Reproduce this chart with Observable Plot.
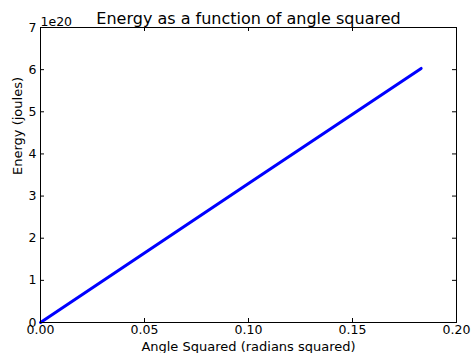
<!DOCTYPE html>
<html><head><meta charset="utf-8">
<script src="https://cdn.jsdelivr.net/npm/d3@7"></script>
<script src="https://cdn.jsdelivr.net/npm/@observablehq/plot@0.6"></script>
<style>
html,body{margin:0;padding:0;background:#fff;}
svg{font-family:"DejaVu Sans",sans-serif;}
</style></head>
<body>
<div id="chart"></div>
<script>
// Angle squared (radians^2) and energy (×1e20 joules)
const angleSquared = [0, 0.05, 0.10, 0.15, 0.183];
const energy = [0, 1.65, 3.30, 4.94, 6.03];
const xTicks = [0, 0.05, 0.10, 0.15, 0.20];
const yTicks = [0, 1, 2, 3, 4, 5, 6, 7];
const title = "Energy as a function of angle squared";
const xLabel = "Angle Squared (radians squared)";
const yLabel = "Energy (joules)";
const offsetText = "1e20";

const data = angleSquared.map((x, i) => ({x, y: energy[i]}));

const W = 471, H = 353, mL = 40, mR = 15, mT = 27, mB = 31;
const plotH = H - mT - mB, plotW = W - mL - mR;
const tl = 4;

const chart = Plot.plot({
  width: W, height: H,
  marginLeft: mL, marginRight: mR, marginTop: mT, marginBottom: mB,
  style: {fontFamily: "DejaVu Sans, sans-serif", fontSize: "12.5px", color: "#000", background: "#fff"},
  x: {domain: [0, 0.2]},
  y: {domain: [0, 7]},
  marks: [
    Plot.frame({stroke: "#000", strokeWidth: 1}),
    Plot.line(data, {x: "x", y: "y", stroke: "#0000ff", strokeWidth: 3}),
    Plot.tickX(xTicks, {x: d => d, insetTop: plotH - tl, stroke: "#000"}),
    Plot.tickX(xTicks, {x: d => d, insetBottom: plotH - tl, stroke: "#000"}),
    Plot.tickY(yTicks, {y: d => d, insetRight: plotW - tl, stroke: "#000"}),
    Plot.tickY(yTicks, {y: d => d, insetLeft: plotW - tl, stroke: "#000"}),
    Plot.axisX({ticks: xTicks, tickSize: 0, tickPadding: 3, tickFormat: d3.format(".2f"),
      fontSize: 12.5, label: null}),
    Plot.axisY({ticks: yTicks, tickSize: 0, tickPadding: 4, tickFormat: d3.format("d"),
      fontSize: 12.5, label: null}),
    Plot.text([xLabel], {text: d => d, frameAnchor: "bottom", lineAnchor: "bottom", dy: 28, fontSize: 13, fill: "#000"}),
    Plot.text([yLabel], {text: d => d, frameAnchor: "left", rotate: -90, lineAnchor: "middle", dx: -23, fontSize: 13, fill: "#000"}),
    Plot.text([offsetText], {text: d => d, frameAnchor: "top-left", textAnchor: "start", lineAnchor: "bottom", dy: -2, fontSize: 12.5, fill: "#000"}),
    Plot.text([title], {text: d => d, frameAnchor: "top", lineAnchor: "bottom", dy: -4, fontSize: 16, fill: "#000"})
  ]
});
document.getElementById("chart").appendChild(chart);
</script>
</body></html>
